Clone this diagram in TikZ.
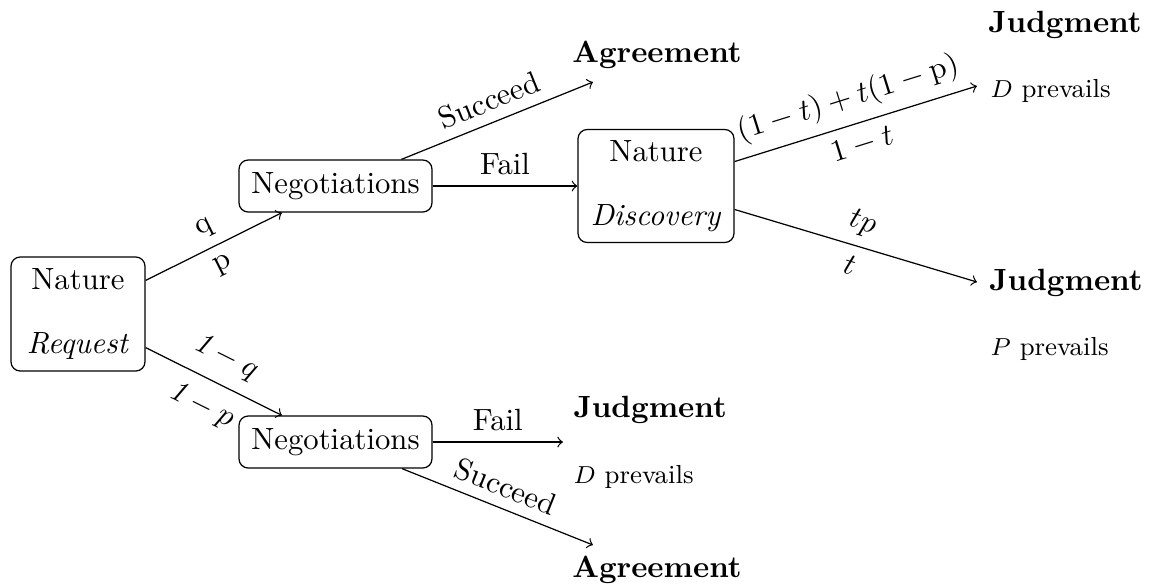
\documentclass[tikz,border=0pt]{standalone}
\usepackage{fontspec}
\begin{document}
\begin{tikzpicture}[x=0.3257pt,y=-0.3257pt,
  box/.style={draw,rounded corners=3pt,inner sep=0pt,align=center},
  lbl/.style={font=\fontsize{10}{12}\selectfont},
  outc/.style={font=\bfseries,inner sep=0pt,anchor=base},
  sub/.style={font=\fontsize{8.5}{10}\selectfont,inner sep=0pt,anchor=base west},
  arr/.style={->}]
\useasboundingbox (0,0) rectangle (1154,586);
% decision / chance nodes
\node[box,minimum width=43.64pt,minimum height=37.13pt] (nat) at (78,314) {Nature\\[9pt]\textit{Request}};
\node[box,minimum width=62.86pt,minimum height=16.94pt] (neg1) at (335.5,186) {Negotiations};
\node[box,minimum width=62.86pt,minimum height=16.94pt] (neg2) at (335.5,442) {Negotiations};
\node[box,minimum width=50.81pt,minimum height=36.8pt] (dis) at (656,186) {Nature\\[9pt]\textit{Discovery}};
% end points
\coordinate (agA) at (593,82);
\coordinate (j1) at (977,86);
\coordinate (j2) at (977,282);
\coordinate (j3) at (563,442);
\coordinate (agB) at (593,545);
% outcome texts
\node[outc] (tAgA) at (657,62) {Agreement};
\node[outc] (tJ1) at (1065,32) {Judgment};
\node[sub] (tD1) at (990,97) {$D$ prevails};
\node[outc] (tJ2) at (1066,290) {Judgment};
\node[sub] (tP2) at (990,355) {$P$ prevails};
\node[outc,anchor=base west] (tJ3) at (573,417) {Judgment};
\node[sub] (tD3) at (573,483) {$D$ prevails};
\node[outc] (tAgB) at (657,577) {Agreement};
% connectors
\draw[arr] (nat) -- node[lbl,sloped,above]{q} node[lbl,sloped,below]{p} (neg1);
\draw[arr] (nat) -- node[sloped,above=1pt]{$\mathit{1}-q$} node[sloped,below=1pt]{$\mathit{1}-p$} (neg2);
\draw[arr] (neg1) -- node[lbl,sloped,above]{Succeed} (agA);
\draw[arr] (neg1) -- node[lbl,above]{Fail} (dis);
\draw[arr] (dis) -- node[sloped,above]{$(1-t)+t(1-\mathrm{p})$} node[sloped,below]{$1-t$} (j1);
\draw[arr] (dis) -- node[sloped,above]{$tp$} node[sloped,below]{$t$} (j2);
\draw[arr] (neg2) -- node[lbl,above]{Fail} (j3);
\draw[arr] (neg2) -- node[lbl,sloped,above]{Succeed} (agB);
\end{tikzpicture}
\end{document}
